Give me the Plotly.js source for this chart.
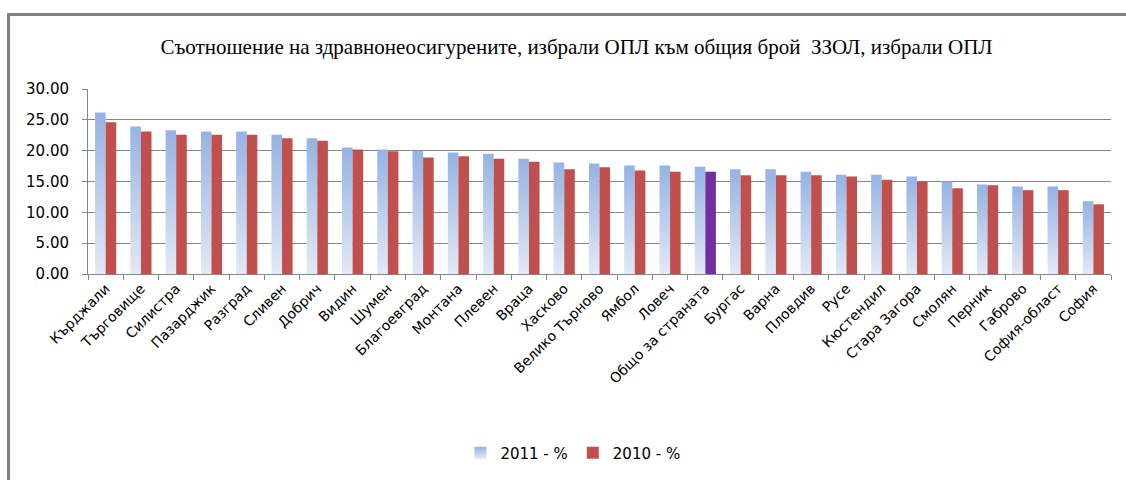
<!DOCTYPE html>
<html>
<head>
<meta charset="utf-8">
<script src="https://cdn.plot.ly/plotly-3.0.1.min.js"></script>
<style>
  html, body { margin: 0; padding: 0; background: #fff; }
  #wrap { position: relative; width: 1126px; height: 480px; overflow: hidden; }
  #chart { position: absolute; left: 0; top: 0; width: 1126px; height: 480px; }
  #frame { position: absolute; left: 7px; top: 13px; width: 1200px; height: 600px;
           border-top: 3px solid #808080; border-left: 3px solid #808080; pointer-events: none; }
</style>
</head>
<body>
<div id="wrap">
  <div id="chart"></div>
  <div id="frame"></div>
</div>
<script>
const categories = ["Кърджали", "Търговище", "Силистра", "Пазарджик", "Разград", "Сливен", "Добрич",
  "Видин", "Шумен", "Благоевград", "Монтана", "Плевен", "Враца", "Хасково", "Велико Търново",
  "Ямбол", "Ловеч", "Общо за страната", "Бургас", "Варна", "Пловдив", "Русе", "Кюстендил",
  "Стара Загора", "Смолян", "Перник", "Габрово", "София-област", "София"];

const values2011 = [26.2, 23.9, 23.3, 23.1, 23.1, 22.6, 22.0, 20.5, 20.2, 20.0, 19.7, 19.5, 18.7,
  18.1, 17.9, 17.6, 17.6, 17.4, 17.0, 17.0, 16.6, 16.1, 16.1, 15.8, 15.0, 14.5, 14.2, 14.2, 11.8];

const values2010 = [24.6, 23.1, 22.6, 22.6, 22.6, 22.0, 21.6, 20.2, 19.9, 18.9, 19.1, 18.7, 18.2,
  17.0, 17.3, 16.8, 16.6, 16.6, 16.0, 16.0, 16.0, 15.8, 15.3, 15.0, 13.9, 14.4, 13.6, 13.6, 11.3];

const seriesNames = ["2011 - %", "2010 - %"];
const chartTitle = "Съотношение на здравнонеосигурените, избрали ОПЛ към общия брой  ЗЗОЛ, избрали ОПЛ";
const highlightCategory = "Общо за страната";

const red = "#c0504d";
const purple = "#7030a0";
const colors2010 = categories.map(c => c === highlightCategory ? purple : red);

const traces = [
  { type: "bar", name: seriesNames[0], x: categories, y: values2011,
    marker: { color: "#a9c0e8", line: { width: 0 } } },
  { type: "bar", name: seriesNames[1], x: categories, y: values2010,
    marker: { color: colors2010, line: { width: 0 } } }
];

const grid = "#868686";
const layout = {
  width: 1126, height: 480,
  margin: { l: 88, r: 15, t: 89, b: 205, pad: 0 },
  paper_bgcolor: "rgba(0,0,0,0)", plot_bgcolor: "rgba(0,0,0,0)",
  barmode: "group", bargap: 0.4, bargroupgap: 0,
  title: { text: chartTitle, x: 0.512, xanchor: "center", y: 1 - 47/480, yanchor: "middle",
           font: { family: "Liberation Serif", size: 21, color: "#000" } },
  font: { family: "DejaVu Sans", color: "#000" },
  xaxis: {
    type: "category", tickangle: -45, tickson: "boundaries", ticks: "outside", ticklen: 5,
    tickcolor: grid, showline: true, linecolor: grid, linewidth: 1, showgrid: false,
    tickfont: { family: "DejaVu Sans", size: 14, color: "#000" }, automargin: false
  },
  yaxis: {
    range: [0, 30], dtick: 5, tickformat: ".2f", ticks: "outside", ticklen: 5, tickcolor: grid,
    showline: true, linecolor: grid, linewidth: 1, showgrid: true, gridcolor: grid, gridwidth: 1,
    zeroline: false, ticklabelstandoff: 10,
    tickfont: { family: "DejaVu Sans", size: 15, color: "#000" }, automargin: false
  },
  showlegend: true,
  legend: { orientation: "h", x: 0.474, xanchor: "center", y: -0.957, yanchor: "middle",
            font: { family: "DejaVu Sans", size: 15, color: "#000" }, bgcolor: "rgba(0,0,0,0)" }
};

Plotly.newPlot("chart", traces, layout, { staticPlot: true, displayModeBar: false }).then(gd => {
  const svg = gd.querySelector("svg.main-svg");
  const ns = "http://www.w3.org/2000/svg";
  let defs = svg.querySelector("defs");
  if (!defs) { defs = document.createElementNS(ns, "defs"); svg.insertBefore(defs, svg.firstChild); }
  const lg = document.createElementNS(ns, "linearGradient");
  lg.setAttribute("id", "gblue");
  lg.setAttribute("x1", "0"); lg.setAttribute("y1", "0");
  lg.setAttribute("x2", "0"); lg.setAttribute("y2", "1");
  [["0", "#95b3e3"], ["1", "#e2e9f6"]].forEach(([o, c]) => {
    const s = document.createElementNS(ns, "stop");
    s.setAttribute("offset", o); s.setAttribute("stop-color", c);
    lg.appendChild(s);
  });
  defs.appendChild(lg);
  const barTraces = gd.querySelectorAll(".barlayer .trace.bars");
  if (barTraces[0]) barTraces[0].querySelectorAll("path").forEach(p => { p.style.fill = "url(#gblue)"; });
  const legTraces = gd.querySelectorAll(".legend .traces");
  if (legTraces[0]) legTraces[0].querySelectorAll(".legendpoints path").forEach(p => { p.style.fill = "url(#gblue)"; });
});
</script>
</body>
</html>
